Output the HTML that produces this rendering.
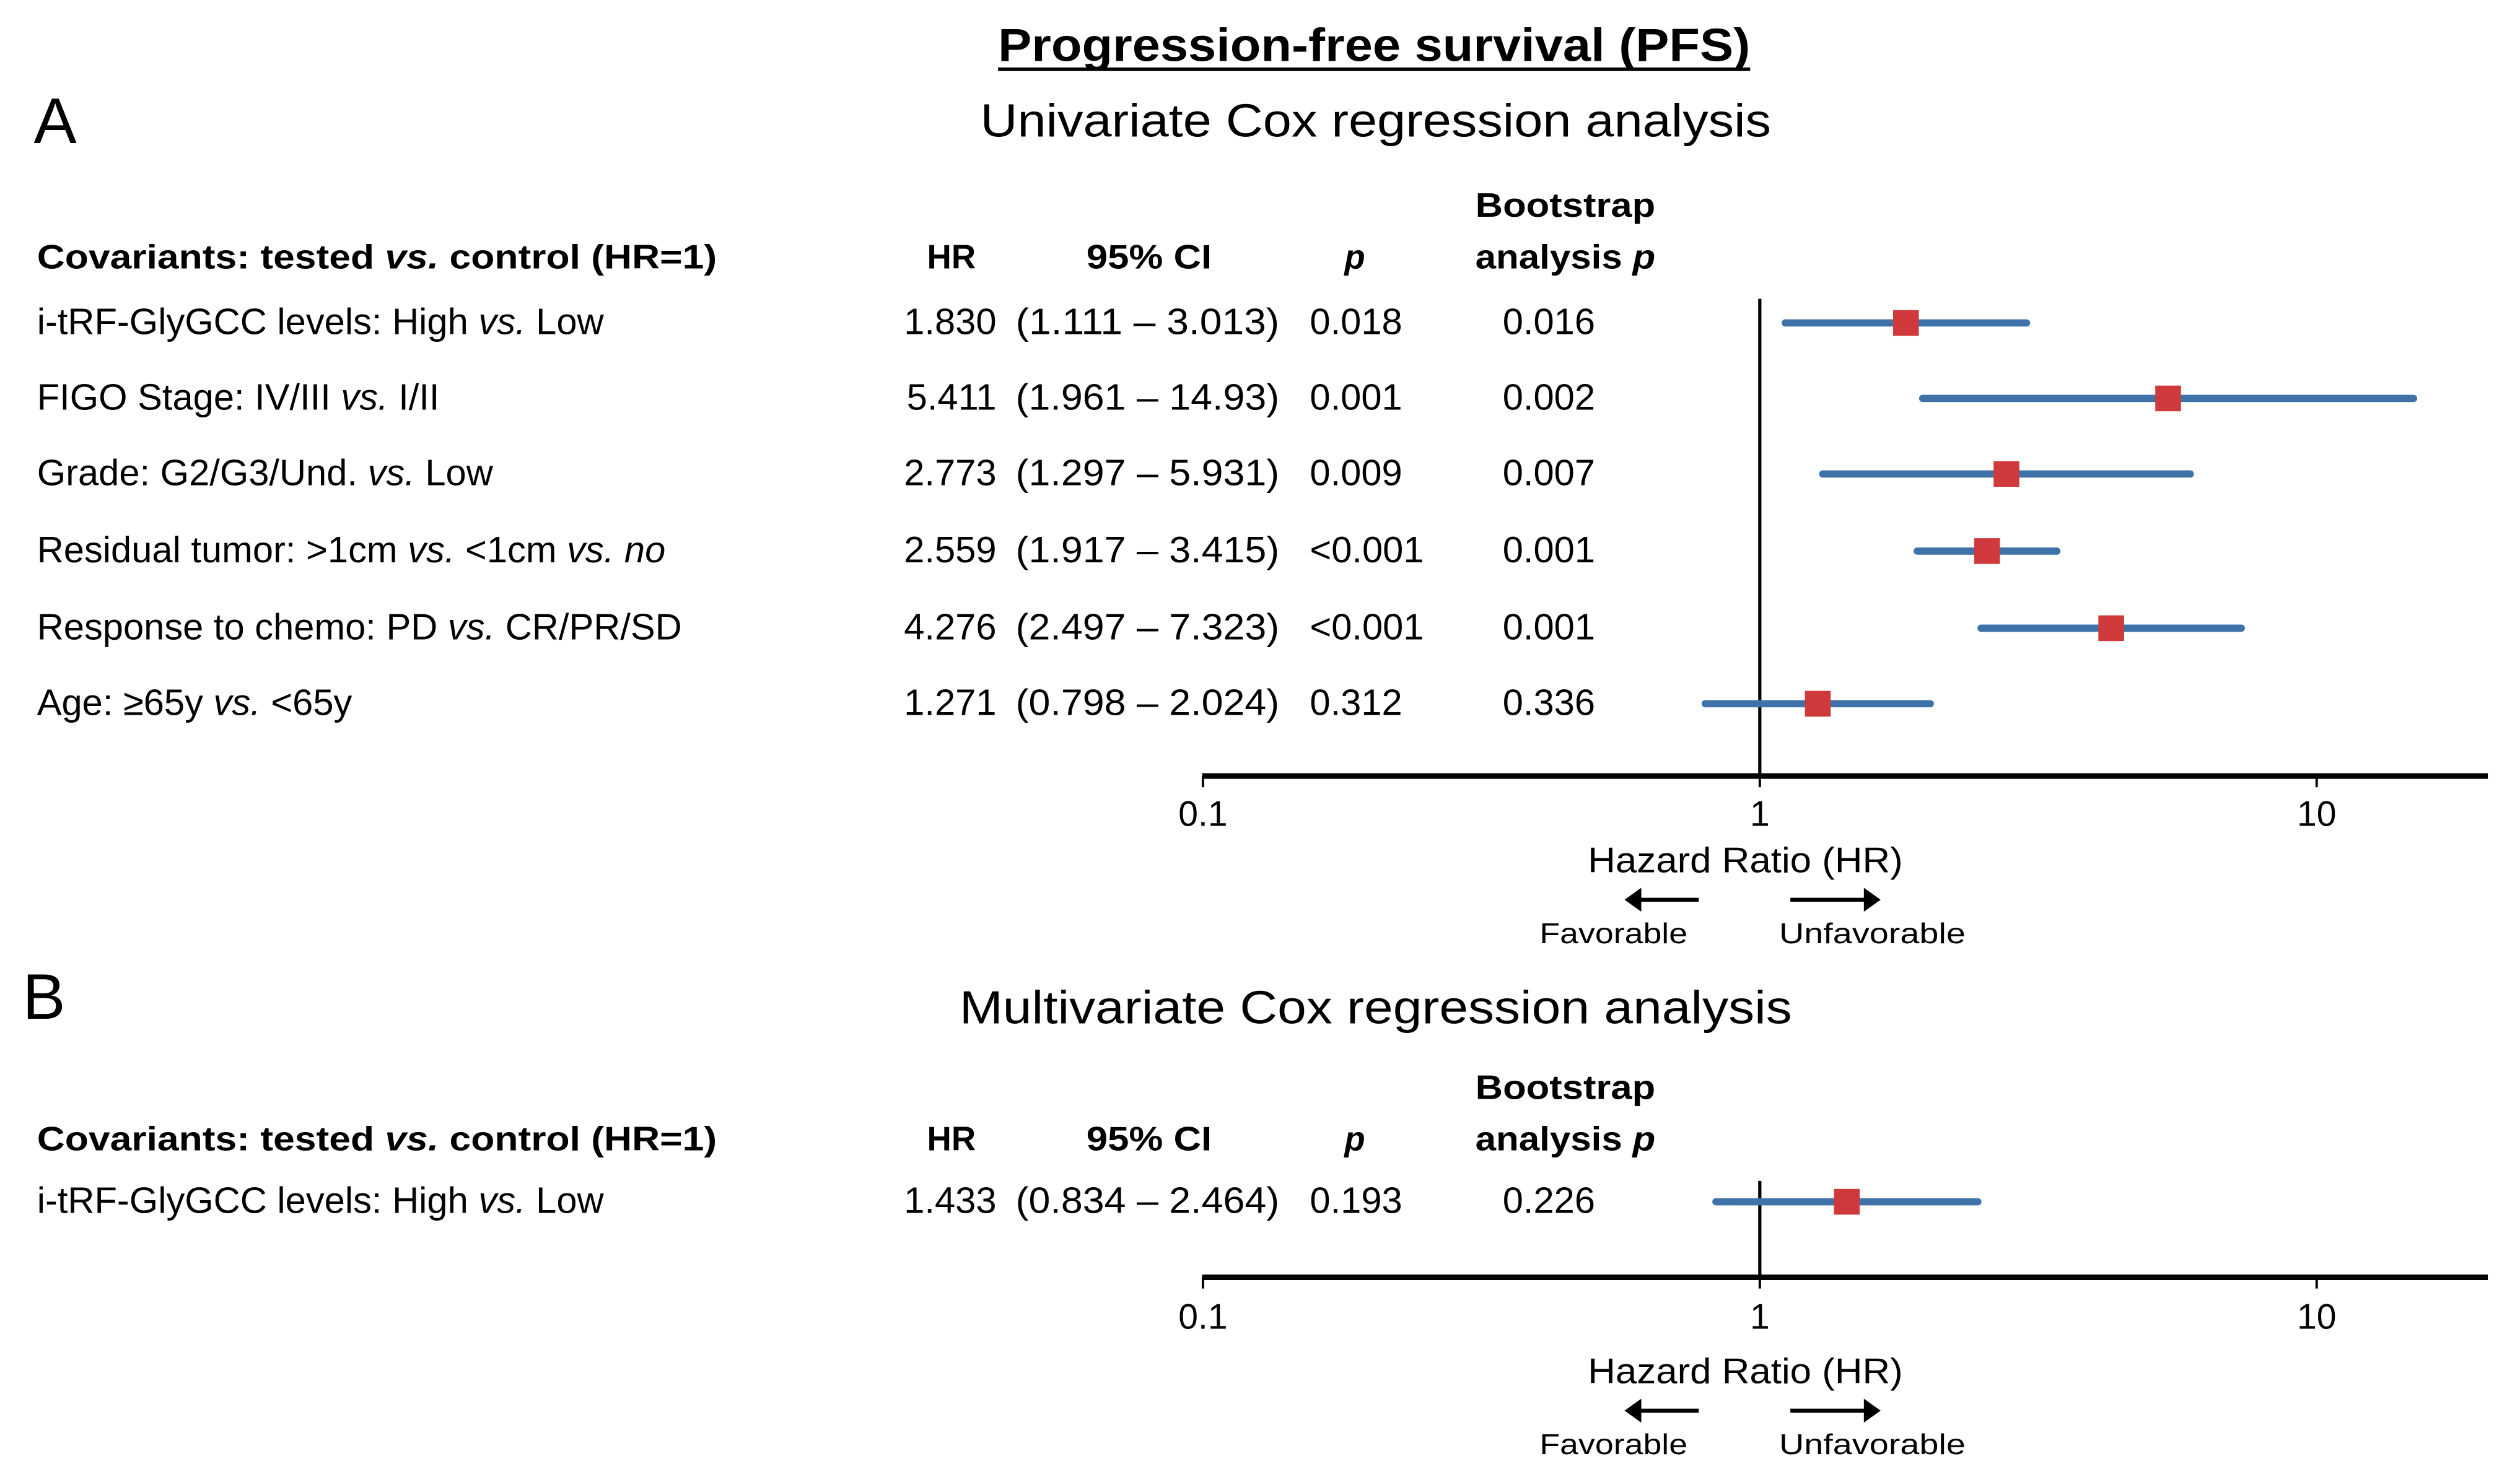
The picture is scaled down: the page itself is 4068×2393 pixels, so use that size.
<!DOCTYPE html>
<html><head><meta charset="utf-8"><style>
html,body{margin:0;padding:0;background:#fff;}
svg{display:block;}
text{font-family:"Liberation Sans",sans-serif;fill:#000;}
</style></head><body>
<svg id="fig" width="4068" height="2393" viewBox="0 0 1568 922.4" xmlns="http://www.w3.org/2000/svg">
<text x="855" y="38" text-anchor="middle" font-size="29" font-weight="bold" textLength="468" lengthAdjust="spacingAndGlyphs">Progression-free survival (PFS)</text>
<rect x="621" y="42" width="468" height="2.2" fill="#000"/>
<text x="21" y="89" font-size="40">A</text>
<text x="856" y="85" text-anchor="middle" font-size="29" textLength="492" lengthAdjust="spacingAndGlyphs">Univariate Cox regression analysis</text>
<text x="14" y="634" font-size="40">B</text>
<text x="856" y="637" text-anchor="middle" font-size="29" textLength="518" lengthAdjust="spacingAndGlyphs">Multivariate Cox regression analysis</text>
<g id="a"></g><g id="b"></g>
</svg>
<script>
const NS="http://www.w3.org/2000/svg";
const labelsA=["i-tRF-GlyGCC levels: High |vs.| Low","FIGO Stage: IV/III |vs.| I/II","Grade: G2/G3/Und. |vs.| Low","Residual tumor: >1cm |vs.| <1cm |vs.| |no|","Response to chemo: PD |vs.| CR/PR/SD","Age: ≥65y |vs.| <65y"];
const hrA=[1.830,5.411,2.773,2.559,4.276,1.271];
const loA=[1.111,1.961,1.297,1.917,2.497,0.798];
const hiA=[3.013,14.93,5.931,3.415,7.323,2.024];
const hiTextA=["3.013","14.93","5.931","3.415","7.323","2.024"];
const pA=["0.018","0.001","0.009","<0.001","<0.001","0.312"];
const bootA=["0.016","0.002","0.007","0.001","0.001","0.336"];
const labelsB=["i-tRF-GlyGCC levels: High |vs.| Low"];
const hrB=[1.433];
const loB=[0.834];
const hiB=[2.464];
const hiTextB=["2.464"];
const pB=["0.193"];
const bootB=["0.226"];
const ticks=[0.1,1,10];
const tickLabels=["0.1","1","10"];

function xs(v){return 1095+346.5*Math.log10(v);}
function mk(tag,attrs,parent){const e=document.createElementNS(NS,tag);for(const k in attrs)e.setAttribute(k,attrs[k]);parent.appendChild(e);return e;}
function txt(parent,x,y,s,opts){const t=mk('text',Object.assign({x:x,y:y,'font-size':21},opts||{}),parent);t.textContent=s;return t;}
function richLabel(parent,x,y,s,bold,size){
  const t=mk('text',{x:x,y:y,'font-size':size||21,'font-weight':bold?'bold':'normal'},parent);
  s.split('|').forEach((part,i)=>{const sp=mk('tspan',{},t);if(i%2===1)sp.setAttribute('font-style','italic');sp.textContent=part;});
  return t;
}
function fmt(v){return v.toFixed(3);}
function panel(g,cfg){
  const {labels,hr,lo,hi,hiText,p,boot,rowY,hdrY,bootY,axisY,lineTop,tickY,hzY,arY,favY,pfx}=cfg;
  let h=richLabel(g,23,hdrY,"Covariants: tested |vs.| control (HR=1)",true);
  
  
  h.setAttribute('textLength','423');h.setAttribute('lengthAdjust','spacingAndGlyphs');
  h=txt(g,592,hdrY,"HR",{'text-anchor':'middle','font-weight':'bold'});
  
  
  h=txt(g,715,hdrY,"95% CI",{'text-anchor':'middle','font-weight':'bold',textLength:78,lengthAdjust:'spacingAndGlyphs'});
  
  
  h=txt(g,843,hdrY,"p",{'text-anchor':'middle','font-weight':'bold','font-style':'italic'});
  
  
  h=txt(g,918,bootY,"Bootstrap",{'font-weight':'bold',textLength:112,lengthAdjust:'spacingAndGlyphs'});
  
  
  h=richLabel(g,918,hdrY,"analysis |p|",true);
  
  
  h.setAttribute('textLength','112');h.setAttribute('lengthAdjust','spacingAndGlyphs');
  const ref=mk('line',{x1:xs(1),x2:xs(1),y1:lineTop,y2:axisY,stroke:'#000','stroke-width':2},g);
  
  
  labels.forEach((lab,i)=>{
    const y=rowY[i], by=y+8;
    let t=richLabel(g,23,by,lab,false,23);
    
    
    t=txt(g,620,by,fmt(hr[i]),{'text-anchor':'end','font-size':23});
    
    
    t=txt(g,632,by,"("+fmt(lo[i])+" – "+hiText[i]+")",{'font-size':23,textLength:164,lengthAdjust:'spacingAndGlyphs'});
    
    
    t=txt(g,815,by,p[i],{'font-size':23});
    
    
    t=txt(g,935,by,boot[i],{'font-size':23});
    
    
    const ci=mk('line',{x1:xs(lo[i]),x2:xs(hi[i]),y1:y+1,y2:y+1,stroke:'#3f72a8','stroke-width':4.5,'stroke-linecap':'round'},g);
    
    
    const sq=mk('rect',{x:xs(hr[i])-8,y:y-7,width:16,height:16,fill:'#d0393b'},g);
    
    
  });
  const ax=mk('line',{x1:748,x2:1548,y1:axisY,y2:axisY,stroke:'#000','stroke-width':3.5},g);
  
  
  ticks.forEach((v,i)=>{
    const tk=mk('line',{x1:xs(v),x2:xs(v),y1:axisY,y2:axisY+7,stroke:'#000','stroke-width':1.5},g);
    
    
    const tl=txt(g,xs(v),tickY,tickLabels[i],{'text-anchor':'middle','font-size':22});
    
    
  });
  let t=txt(g,1086,hzY,"Hazard Ratio (HR)",{'text-anchor':'middle','font-size':22,textLength:196,lengthAdjust:'spacingAndGlyphs'});
  
  
  let a=mk('path',{d:`M1057 ${arY} H1013 M1013 ${arY} l7 -5 v10 z`,stroke:'#000','stroke-width':2.5,fill:'#000'},g);
  
  
  a=mk('path',{d:`M1114 ${arY} H1161 M1168 ${arY} l-7 -5 v10 z`,stroke:'#000','stroke-width':2.5,fill:'#000'},g);
  
  
  t=txt(g,1004,favY,"Favorable",{'text-anchor':'middle','font-size':18,textLength:92,lengthAdjust:'spacingAndGlyphs'});
  
  
  t=txt(g,1165,favY,"Unfavorable",{'text-anchor':'middle','font-size':18,textLength:116,lengthAdjust:'spacingAndGlyphs'});
  
  
}
const ga=document.getElementById('a');


panel(ga,{labels:labelsA,hr:hrA,lo:loA,hi:hiA,hiText:hiTextA,p:pA,boot:bootA,rowY:[200,247,294,342,390,437],hdrY:167,bootY:135,axisY:483,lineTop:186,tickY:514,hzY:543,arY:560,favY:587,pfx:'a'});
const gb=document.getElementById('b');


panel(gb,{labels:labelsB,hr:hrB,lo:loB,hi:hiB,hiText:hiTextB,p:pB,boot:bootB,rowY:[747],hdrY:716,bootY:684,axisY:795,lineTop:735,tickY:827,hzY:861,arY:878,favY:905,pfx:'b'});
</script>
</body></html>
